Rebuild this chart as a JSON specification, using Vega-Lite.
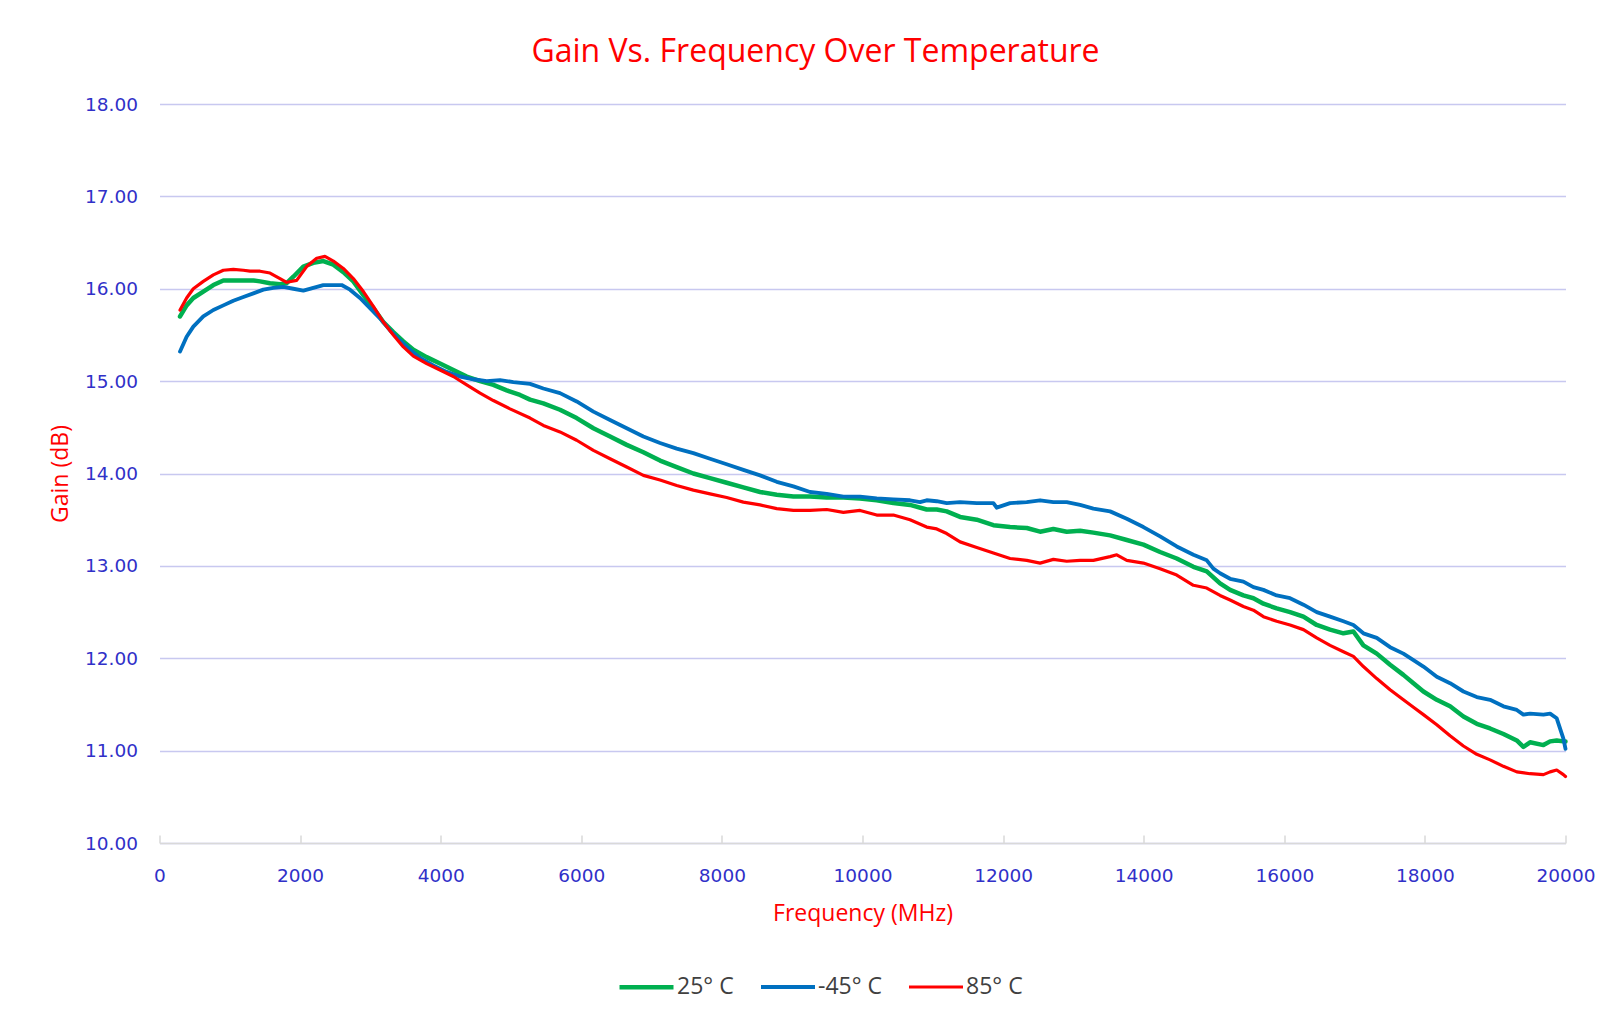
{
  "$schema": "https://vega.github.io/schema/vega-lite/v6.json",
  "width": 1406,
  "height": 739,
  "autosize": {"type": "none"},
  "padding": {"left": 159.5, "top": 104, "right": 48, "bottom": 178},
  "background": "white",
  "title": {"text": "Gain Vs. Frequency Over Temperature", "color": "#FF0000", "font": "Open Sans", "fontSize": 32, "fontWeight": "normal", "anchor": "middle", "dx": -47, "offset": 26},
  "data": {"values": [
    {"f":292,"g":15.70,"s":"25° C"},{"f":386,"g":15.82,"s":"25° C"},{"f":481,"g":15.90,"s":"25° C"},{"f":623,"g":15.97,"s":"25° C"},{"f":766,"g":16.04,"s":"25° C"},{"f":908,"g":16.09,"s":"25° C"},{"f":1050,"g":16.09,"s":"25° C"},{"f":1193,"g":16.09,"s":"25° C"},{"f":1335,"g":16.09,"s":"25° C"},{"f":1430,"g":16.08,"s":"25° C"},{"f":1572,"g":16.06,"s":"25° C"},{"f":1714,"g":16.05,"s":"25° C"},{"f":1809,"g":16.06,"s":"25° C"},{"f":1904,"g":16.13,"s":"25° C"},{"f":2046,"g":16.24,"s":"25° C"},{"f":2188,"g":16.28,"s":"25° C"},{"f":2330,"g":16.30,"s":"25° C"},{"f":2473,"g":16.26,"s":"25° C"},{"f":2615,"g":16.18,"s":"25° C"},{"f":2757,"g":16.08,"s":"25° C"},{"f":2900,"g":15.93,"s":"25° C"},{"f":3042,"g":15.79,"s":"25° C"},{"f":3184,"g":15.64,"s":"25° C"},{"f":3326,"g":15.53,"s":"25° C"},{"f":3469,"g":15.43,"s":"25° C"},{"f":3611,"g":15.34,"s":"25° C"},{"f":3800,"g":15.26,"s":"25° C"},{"f":3990,"g":15.19,"s":"25° C"},{"f":4180,"g":15.12,"s":"25° C"},{"f":4370,"g":15.05,"s":"25° C"},{"f":4560,"g":15.00,"s":"25° C"},{"f":4749,"g":14.96,"s":"25° C"},{"f":4939,"g":14.90,"s":"25° C"},{"f":5128,"g":14.85,"s":"25° C"},{"f":5271,"g":14.80,"s":"25° C"},{"f":5460,"g":14.76,"s":"25° C"},{"f":5697,"g":14.69,"s":"25° C"},{"f":5934,"g":14.60,"s":"25° C"},{"f":6172,"g":14.49,"s":"25° C"},{"f":6409,"g":14.40,"s":"25° C"},{"f":6646,"g":14.31,"s":"25° C"},{"f":6883,"g":14.23,"s":"25° C"},{"f":7120,"g":14.14,"s":"25° C"},{"f":7357,"g":14.07,"s":"25° C"},{"f":7594,"g":14.00,"s":"25° C"},{"f":7831,"g":13.95,"s":"25° C"},{"f":8068,"g":13.90,"s":"25° C"},{"f":8305,"g":13.85,"s":"25° C"},{"f":8543,"g":13.80,"s":"25° C"},{"f":8780,"g":13.77,"s":"25° C"},{"f":9017,"g":13.75,"s":"25° C"},{"f":9254,"g":13.75,"s":"25° C"},{"f":9491,"g":13.74,"s":"25° C"},{"f":9728,"g":13.74,"s":"25° C"},{"f":9965,"g":13.73,"s":"25° C"},{"f":10202,"g":13.71,"s":"25° C"},{"f":10439,"g":13.68,"s":"25° C"},{"f":10676,"g":13.66,"s":"25° C"},{"f":10913,"g":13.61,"s":"25° C"},{"f":11056,"g":13.61,"s":"25° C"},{"f":11198,"g":13.59,"s":"25° C"},{"f":11388,"g":13.53,"s":"25° C"},{"f":11625,"g":13.50,"s":"25° C"},{"f":11862,"g":13.44,"s":"25° C"},{"f":12099,"g":13.42,"s":"25° C"},{"f":12336,"g":13.41,"s":"25° C"},{"f":12526,"g":13.37,"s":"25° C"},{"f":12715,"g":13.40,"s":"25° C"},{"f":12905,"g":13.37,"s":"25° C"},{"f":13095,"g":13.38,"s":"25° C"},{"f":13284,"g":13.36,"s":"25° C"},{"f":13522,"g":13.33,"s":"25° C"},{"f":13759,"g":13.28,"s":"25° C"},{"f":13996,"g":13.23,"s":"25° C"},{"f":14233,"g":13.15,"s":"25° C"},{"f":14470,"g":13.08,"s":"25° C"},{"f":14707,"g":12.99,"s":"25° C"},{"f":14897,"g":12.94,"s":"25° C"},{"f":15086,"g":12.81,"s":"25° C"},{"f":15229,"g":12.74,"s":"25° C"},{"f":15418,"g":12.68,"s":"25° C"},{"f":15561,"g":12.65,"s":"25° C"},{"f":15703,"g":12.59,"s":"25° C"},{"f":15892,"g":12.54,"s":"25° C"},{"f":16082,"g":12.50,"s":"25° C"},{"f":16272,"g":12.45,"s":"25° C"},{"f":16461,"g":12.36,"s":"25° C"},{"f":16651,"g":12.31,"s":"25° C"},{"f":16841,"g":12.27,"s":"25° C"},{"f":16983,"g":12.29,"s":"25° C"},{"f":17125,"g":12.14,"s":"25° C"},{"f":17315,"g":12.05,"s":"25° C"},{"f":17505,"g":11.93,"s":"25° C"},{"f":17694,"g":11.82,"s":"25° C"},{"f":17837,"g":11.73,"s":"25° C"},{"f":17979,"g":11.64,"s":"25° C"},{"f":18169,"g":11.55,"s":"25° C"},{"f":18358,"g":11.48,"s":"25° C"},{"f":18548,"g":11.37,"s":"25° C"},{"f":18738,"g":11.29,"s":"25° C"},{"f":18927,"g":11.24,"s":"25° C"},{"f":19117,"g":11.18,"s":"25° C"},{"f":19307,"g":11.11,"s":"25° C"},{"f":19401,"g":11.04,"s":"25° C"},{"f":19496,"g":11.09,"s":"25° C"},{"f":19686,"g":11.06,"s":"25° C"},{"f":19781,"g":11.10,"s":"25° C"},{"f":19875,"g":11.11,"s":"25° C"},{"f":19970,"g":11.10,"s":"25° C"},{"f":20000,"g":11.10,"s":"25° C"},

    {"f":292,"g":15.32,"s":"-45° C"},{"f":386,"g":15.48,"s":"-45° C"},{"f":481,"g":15.59,"s":"-45° C"},{"f":623,"g":15.70,"s":"-45° C"},{"f":766,"g":15.77,"s":"-45° C"},{"f":908,"g":15.82,"s":"-45° C"},{"f":1050,"g":15.87,"s":"-45° C"},{"f":1193,"g":15.91,"s":"-45° C"},{"f":1335,"g":15.95,"s":"-45° C"},{"f":1477,"g":15.99,"s":"-45° C"},{"f":1619,"g":16.01,"s":"-45° C"},{"f":1762,"g":16.02,"s":"-45° C"},{"f":1904,"g":16.00,"s":"-45° C"},{"f":2046,"g":15.98,"s":"-45° C"},{"f":2188,"g":16.01,"s":"-45° C"},{"f":2330,"g":16.04,"s":"-45° C"},{"f":2473,"g":16.04,"s":"-45° C"},{"f":2591,"g":16.04,"s":"-45° C"},{"f":2710,"g":15.99,"s":"-45° C"},{"f":2852,"g":15.90,"s":"-45° C"},{"f":2994,"g":15.79,"s":"-45° C"},{"f":3136,"g":15.68,"s":"-45° C"},{"f":3279,"g":15.55,"s":"-45° C"},{"f":3421,"g":15.44,"s":"-45° C"},{"f":3563,"g":15.34,"s":"-45° C"},{"f":3706,"g":15.25,"s":"-45° C"},{"f":3895,"g":15.17,"s":"-45° C"},{"f":4085,"g":15.10,"s":"-45° C"},{"f":4275,"g":15.05,"s":"-45° C"},{"f":4465,"g":15.02,"s":"-45° C"},{"f":4654,"g":15.00,"s":"-45° C"},{"f":4844,"g":15.01,"s":"-45° C"},{"f":5034,"g":14.99,"s":"-45° C"},{"f":5271,"g":14.97,"s":"-45° C"},{"f":5460,"g":14.92,"s":"-45° C"},{"f":5697,"g":14.87,"s":"-45° C"},{"f":5934,"g":14.78,"s":"-45° C"},{"f":6172,"g":14.67,"s":"-45° C"},{"f":6409,"g":14.58,"s":"-45° C"},{"f":6646,"g":14.49,"s":"-45° C"},{"f":6883,"g":14.40,"s":"-45° C"},{"f":7120,"g":14.33,"s":"-45° C"},{"f":7357,"g":14.27,"s":"-45° C"},{"f":7594,"g":14.22,"s":"-45° C"},{"f":7831,"g":14.16,"s":"-45° C"},{"f":8068,"g":14.10,"s":"-45° C"},{"f":8305,"g":14.04,"s":"-45° C"},{"f":8543,"g":13.98,"s":"-45° C"},{"f":8780,"g":13.91,"s":"-45° C"},{"f":9017,"g":13.86,"s":"-45° C"},{"f":9254,"g":13.80,"s":"-45° C"},{"f":9491,"g":13.78,"s":"-45° C"},{"f":9728,"g":13.75,"s":"-45° C"},{"f":9965,"g":13.75,"s":"-45° C"},{"f":10202,"g":13.73,"s":"-45° C"},{"f":10439,"g":13.72,"s":"-45° C"},{"f":10676,"g":13.71,"s":"-45° C"},{"f":10818,"g":13.69,"s":"-45° C"},{"f":10913,"g":13.71,"s":"-45° C"},{"f":11056,"g":13.70,"s":"-45° C"},{"f":11198,"g":13.68,"s":"-45° C"},{"f":11388,"g":13.69,"s":"-45° C"},{"f":11625,"g":13.68,"s":"-45° C"},{"f":11862,"g":13.68,"s":"-45° C"},{"f":11909,"g":13.63,"s":"-45° C"},{"f":12099,"g":13.68,"s":"-45° C"},{"f":12336,"g":13.69,"s":"-45° C"},{"f":12526,"g":13.71,"s":"-45° C"},{"f":12715,"g":13.69,"s":"-45° C"},{"f":12905,"g":13.69,"s":"-45° C"},{"f":13095,"g":13.66,"s":"-45° C"},{"f":13284,"g":13.62,"s":"-45° C"},{"f":13522,"g":13.59,"s":"-45° C"},{"f":13759,"g":13.51,"s":"-45° C"},{"f":13996,"g":13.42,"s":"-45° C"},{"f":14233,"g":13.32,"s":"-45° C"},{"f":14470,"g":13.21,"s":"-45° C"},{"f":14707,"g":13.12,"s":"-45° C"},{"f":14897,"g":13.06,"s":"-45° C"},{"f":14991,"g":12.97,"s":"-45° C"},{"f":15086,"g":12.92,"s":"-45° C"},{"f":15229,"g":12.86,"s":"-45° C"},{"f":15418,"g":12.83,"s":"-45° C"},{"f":15561,"g":12.77,"s":"-45° C"},{"f":15703,"g":12.74,"s":"-45° C"},{"f":15892,"g":12.68,"s":"-45° C"},{"f":16082,"g":12.65,"s":"-45° C"},{"f":16272,"g":12.58,"s":"-45° C"},{"f":16461,"g":12.50,"s":"-45° C"},{"f":16651,"g":12.45,"s":"-45° C"},{"f":16841,"g":12.40,"s":"-45° C"},{"f":16983,"g":12.36,"s":"-45° C"},{"f":17125,"g":12.27,"s":"-45° C"},{"f":17315,"g":12.22,"s":"-45° C"},{"f":17505,"g":12.12,"s":"-45° C"},{"f":17694,"g":12.05,"s":"-45° C"},{"f":17837,"g":11.98,"s":"-45° C"},{"f":17979,"g":11.91,"s":"-45° C"},{"f":18169,"g":11.80,"s":"-45° C"},{"f":18358,"g":11.73,"s":"-45° C"},{"f":18548,"g":11.64,"s":"-45° C"},{"f":18738,"g":11.58,"s":"-45° C"},{"f":18927,"g":11.55,"s":"-45° C"},{"f":19117,"g":11.48,"s":"-45° C"},{"f":19307,"g":11.44,"s":"-45° C"},{"f":19401,"g":11.39,"s":"-45° C"},{"f":19496,"g":11.40,"s":"-45° C"},{"f":19686,"g":11.39,"s":"-45° C"},{"f":19781,"g":11.40,"s":"-45° C"},{"f":19875,"g":11.35,"s":"-45° C"},{"f":19970,"g":11.13,"s":"-45° C"},{"f":20000,"g":11.02,"s":"-45° C"},

    {"f":292,"g":15.77,"s":"85° C"},{"f":386,"g":15.90,"s":"85° C"},{"f":481,"g":16.00,"s":"85° C"},{"f":623,"g":16.08,"s":"85° C"},{"f":766,"g":16.15,"s":"85° C"},{"f":908,"g":16.20,"s":"85° C"},{"f":1050,"g":16.21,"s":"85° C"},{"f":1193,"g":16.20,"s":"85° C"},{"f":1288,"g":16.19,"s":"85° C"},{"f":1430,"g":16.19,"s":"85° C"},{"f":1572,"g":16.17,"s":"85° C"},{"f":1714,"g":16.11,"s":"85° C"},{"f":1809,"g":16.07,"s":"85° C"},{"f":1951,"g":16.09,"s":"85° C"},{"f":2093,"g":16.24,"s":"85° C"},{"f":2236,"g":16.33,"s":"85° C"},{"f":2354,"g":16.35,"s":"85° C"},{"f":2473,"g":16.30,"s":"85° C"},{"f":2615,"g":16.22,"s":"85° C"},{"f":2757,"g":16.11,"s":"85° C"},{"f":2900,"g":15.97,"s":"85° C"},{"f":3042,"g":15.81,"s":"85° C"},{"f":3184,"g":15.64,"s":"85° C"},{"f":3326,"g":15.50,"s":"85° C"},{"f":3469,"g":15.37,"s":"85° C"},{"f":3611,"g":15.27,"s":"85° C"},{"f":3800,"g":15.19,"s":"85° C"},{"f":3990,"g":15.12,"s":"85° C"},{"f":4180,"g":15.05,"s":"85° C"},{"f":4370,"g":14.96,"s":"85° C"},{"f":4560,"g":14.87,"s":"85° C"},{"f":4749,"g":14.79,"s":"85° C"},{"f":4986,"g":14.70,"s":"85° C"},{"f":5271,"g":14.60,"s":"85° C"},{"f":5460,"g":14.52,"s":"85° C"},{"f":5697,"g":14.45,"s":"85° C"},{"f":5934,"g":14.36,"s":"85° C"},{"f":6172,"g":14.25,"s":"85° C"},{"f":6409,"g":14.16,"s":"85° C"},{"f":6646,"g":14.07,"s":"85° C"},{"f":6883,"g":13.98,"s":"85° C"},{"f":7120,"g":13.93,"s":"85° C"},{"f":7357,"g":13.87,"s":"85° C"},{"f":7594,"g":13.82,"s":"85° C"},{"f":7831,"g":13.78,"s":"85° C"},{"f":8068,"g":13.74,"s":"85° C"},{"f":8305,"g":13.69,"s":"85° C"},{"f":8543,"g":13.66,"s":"85° C"},{"f":8780,"g":13.62,"s":"85° C"},{"f":9017,"g":13.60,"s":"85° C"},{"f":9254,"g":13.60,"s":"85° C"},{"f":9491,"g":13.61,"s":"85° C"},{"f":9728,"g":13.58,"s":"85° C"},{"f":9965,"g":13.60,"s":"85° C"},{"f":10202,"g":13.55,"s":"85° C"},{"f":10439,"g":13.55,"s":"85° C"},{"f":10676,"g":13.50,"s":"85° C"},{"f":10913,"g":13.42,"s":"85° C"},{"f":11056,"g":13.40,"s":"85° C"},{"f":11198,"g":13.35,"s":"85° C"},{"f":11388,"g":13.26,"s":"85° C"},{"f":11625,"g":13.20,"s":"85° C"},{"f":11862,"g":13.14,"s":"85° C"},{"f":12099,"g":13.08,"s":"85° C"},{"f":12336,"g":13.06,"s":"85° C"},{"f":12526,"g":13.03,"s":"85° C"},{"f":12715,"g":13.07,"s":"85° C"},{"f":12905,"g":13.05,"s":"85° C"},{"f":13095,"g":13.06,"s":"85° C"},{"f":13284,"g":13.06,"s":"85° C"},{"f":13522,"g":13.10,"s":"85° C"},{"f":13617,"g":13.12,"s":"85° C"},{"f":13759,"g":13.06,"s":"85° C"},{"f":13996,"g":13.03,"s":"85° C"},{"f":14233,"g":12.97,"s":"85° C"},{"f":14470,"g":12.90,"s":"85° C"},{"f":14707,"g":12.79,"s":"85° C"},{"f":14897,"g":12.76,"s":"85° C"},{"f":15086,"g":12.68,"s":"85° C"},{"f":15229,"g":12.63,"s":"85° C"},{"f":15418,"g":12.56,"s":"85° C"},{"f":15561,"g":12.52,"s":"85° C"},{"f":15703,"g":12.45,"s":"85° C"},{"f":15892,"g":12.40,"s":"85° C"},{"f":16082,"g":12.36,"s":"85° C"},{"f":16272,"g":12.31,"s":"85° C"},{"f":16461,"g":12.22,"s":"85° C"},{"f":16651,"g":12.14,"s":"85° C"},{"f":16841,"g":12.07,"s":"85° C"},{"f":16983,"g":12.02,"s":"85° C"},{"f":17125,"g":11.91,"s":"85° C"},{"f":17315,"g":11.78,"s":"85° C"},{"f":17505,"g":11.66,"s":"85° C"},{"f":17694,"g":11.55,"s":"85° C"},{"f":17837,"g":11.47,"s":"85° C"},{"f":17979,"g":11.39,"s":"85° C"},{"f":18169,"g":11.28,"s":"85° C"},{"f":18358,"g":11.16,"s":"85° C"},{"f":18548,"g":11.05,"s":"85° C"},{"f":18738,"g":10.96,"s":"85° C"},{"f":18927,"g":10.90,"s":"85° C"},{"f":19117,"g":10.83,"s":"85° C"},{"f":19307,"g":10.77,"s":"85° C"},{"f":19496,"g":10.75,"s":"85° C"},{"f":19686,"g":10.74,"s":"85° C"},{"f":19781,"g":10.77,"s":"85° C"},{"f":19875,"g":10.79,"s":"85° C"},{"f":19970,"g":10.74,"s":"85° C"},{"f":20000,"g":10.72,"s":"85° C"}
  ]},
  "mark": {"type": "line", "interpolate": "linear", "strokeJoin": "round", "strokeCap": "round"},
  "encoding": {
    "x": {
      "field": "f", "type": "quantitative",
      "scale": {"domain": [0, 20000], "nice": false, "zero": false},
      "axis": {
        "values": [0, 2000, 4000, 6000, 8000, 10000, 12000, 14000, 16000, 18000, 20000],
        "format": "d",
        "title": "Frequency (MHz)",
        "grid": false,
        "domainColor": "#D9D9D9", "domainWidth": 1.5,
        "ticks": true, "tickColor": "#D9D9D9", "tickWidth": 1.5, "tickSize": -8,
        "labelFont": "DejaVu Sans", "labelFontSize": 18.5, "labelColor": "#3030C8", "labelPadding": 31,
        "labelFlush": false, "labelOverlap": false,
        "titleFont": "Open Sans", "titleFontSize": 23, "titleFontWeight": "normal", "titleColor": "#FF0000", "titlePadding": 18
      }
    },
    "y": {
      "field": "g", "type": "quantitative",
      "scale": {"domain": [10, 18], "nice": false, "zero": false},
      "axis": {
        "values": [10, 11, 12, 13, 14, 15, 16, 17, 18],
        "format": ".2f",
        "title": "Gain (dB)",
        "grid": true, "gridColor": "#C8C8F0", "gridWidth": 1.3,
        "domain": false, "ticks": false,
        "labelFont": "DejaVu Sans", "labelFontSize": 18.5, "labelColor": "#3030C8", "labelPadding": 22,
        "titleFont": "Open Sans", "titleFontSize": 23, "titleFontWeight": "normal", "titleColor": "#FF0000", "titlePadding": 12
      }
    },
    "color": {
      "field": "s", "type": "nominal",
      "scale": {"domain": ["25° C", "-45° C", "85° C"], "range": ["#00B050", "#0070C0", "#FF0000"]},
      "legend": {
        "orient": "none", "legendX": 457.5, "legendY": 853.5, "direction": "horizontal", "title": null,
        "symbolType": "stroke", "symbolSize": 2916, "symbolStrokeWidth": 4.5,
        "labelFont": "Open Sans", "labelFontSize": 23, "labelColor": "#404040", "labelOffset": 1,
        "columnPadding": 19
      }
    },
    "strokeWidth": {
      "field": "s", "type": "nominal",
      "scale": {"domain": ["25° C", "-45° C", "85° C"], "range": [4.5, 3.2, 3.2]},
      "legend": null
    }
  },
  "config": {"view": {"stroke": null}}
}
